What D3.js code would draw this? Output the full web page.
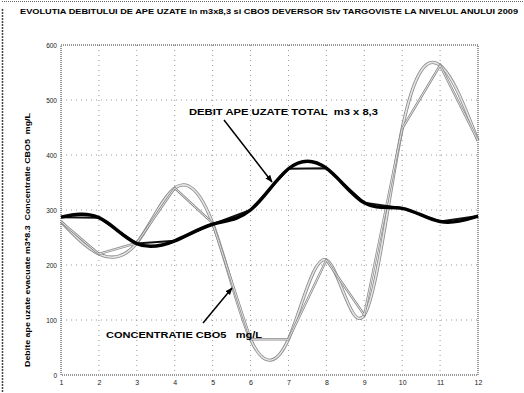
<!DOCTYPE html>
<html>
<head>
<meta charset="utf-8">
<script src="https://cdn.jsdelivr.net/npm/d3@7"></script>
<style>
  body { margin: 0; background: #fff; }
  text { font-family: "Liberation Sans", Arial, sans-serif; white-space: pre; }
</style>
</head>
<body>
<div id="chart"></div>
<script>
// months 1..12
const months = [1, 2, 3, 4, 5, 6, 7, 8, 9, 10, 11, 12];
// debit ape uzate total (m3 x 8,3)
const debit = [287, 286, 239, 244, 274, 300, 375, 376, 313, 303, 279, 289];
// concentratie CBO5 mg/L
const cbo5 = [279, 220, 240, 340, 276, 65, 65, 209, 109, 448, 563, 426];
const yTicks = [0, 100, 200, 300, 400, 500, 600];

const width = 524, height = 393;
const margin = {top: 45, right: 46, bottom: 18, left: 61};
const w = width - margin.left - margin.right;
const h = height - margin.top - margin.bottom;

const svg = d3.select('#chart').append('svg')
  .attr('width', width)
  .attr('height', height);

// outer figure frame
svg.append('line')
  .attr('x1', 2).attr('x2', 524).attr('y1', 1.5).attr('y2', 1.5)
  .attr('stroke', '#666').attr('stroke-dasharray', '1,1');
svg.append('line')
  .attr('x1', 2.5).attr('x2', 2.5).attr('y1', 9).attr('y2', 393)
  .attr('stroke', '#444').attr('stroke-width', 1.5).attr('stroke-dasharray', '2,1');

svg.append('text')
  .attr('x', 20).attr('y', 14)
  .attr('font-size', 6.6).attr('font-weight', 'bold')
  .attr('textLength', 498).attr('lengthAdjust', 'spacingAndGlyphs')
  .text('EVOLUTIA DEBITULUI DE APE UZATE in m3x8,3 si CBO5 DEVERSOR Stv TARGOVISTE LA NIVELUL ANULUI 2009');

const g = svg.append('g')
  .attr('transform', 'translate(' + margin.left + ',' + margin.top + ')');

const x = d3.scaleLinear().domain([1, 12]).range([0, w]);
const y = d3.scaleLinear().domain([0, 600]).range([h, 0]);

// grid
g.append('g')
  .attr('stroke', '#999').attr('stroke-dasharray', '1,4')
  .selectAll('line.gx')
  .data(months.slice(1, -1))
  .enter().append('line')
  .attr('x1', d => x(d)).attr('x2', d => x(d))
  .attr('y1', 0).attr('y2', h);
g.append('g')
  .attr('stroke', '#999').attr('stroke-dasharray', '1,4')
  .selectAll('line.gy')
  .data(yTicks.slice(1, -1))
  .enter().append('line')
  .attr('x1', 0).attr('x2', w)
  .attr('y1', d => y(d)).attr('y2', d => y(d));

// box
g.append('rect')
  .attr('width', w).attr('height', h)
  .attr('fill', 'none').attr('stroke', '#333').attr('stroke-dasharray', '1,1');

const xAxis = g.append('g')
  .attr('transform', 'translate(0,' + h + ')')
  .call(d3.axisBottom(x).tickValues(months).tickFormat(d3.format('d')).tickSize(0).tickPadding(5));
xAxis.select('.domain').remove();
xAxis.selectAll('text').attr('font-size', 7).attr('fill', '#222');

const yAxis = g.append('g')
  .call(d3.axisLeft(y).tickValues(yTicks).tickSize(0).tickPadding(4));
yAxis.select('.domain').remove();
yAxis.selectAll('text').attr('font-size', 6.5).attr('fill', '#222');

svg.append('text')
  .attr('transform', 'translate(30,240) rotate(-90)')
  .attr('text-anchor', 'middle')
  .attr('font-size', 6.5).attr('font-weight', 'bold')
  .attr('textLength', 254).attr('lengthAdjust', 'spacingAndGlyphs')
  .text('Debite ape uzate evacuate m3*8.3  Concentratie CBO5  mg/L');

const smooth = d3.line().x((d, i) => x(months[i])).y(d => y(d)).curve(d3.curveNatural);
const straight = d3.line().x((d, i) => x(months[i])).y(d => y(d));

// CBO5 (grey, outlined look)
[smooth, straight].forEach((ln, k) => {
  g.append('path').datum(cbo5)
    .attr('d', ln).attr('fill', 'none')
    .attr('stroke', '#8a8a8a').attr('stroke-width', k === 0 ? 3.2 : 2.4);
  g.append('path').datum(cbo5)
    .attr('d', ln).attr('fill', 'none')
    .attr('stroke', '#e4e4e4').attr('stroke-width', k === 0 ? 1.6 : 1);
});

// debit (black)
g.append('path').datum(debit)
  .attr('d', straight).attr('fill', 'none')
  .attr('stroke', '#111').attr('stroke-width', 2);
g.append('path').datum(debit)
  .attr('d', smooth).attr('fill', 'none')
  .attr('stroke', '#000').attr('stroke-width', 3.5);

// annotations
svg.append('defs').append('marker')
  .attr('id', 'ah').attr('viewBox', '0 0 10 10')
  .attr('refX', 9).attr('refY', 5)
  .attr('markerWidth', 5).attr('markerHeight', 5)
  .attr('orient', 'auto')
  .append('path').attr('d', 'M0,1L10,5L0,9Z').attr('fill', '#000');

svg.append('text')
  .attr('x', 189).attr('y', 115)
  .attr('font-size', 8.5).attr('font-weight', 'bold')
  .attr('textLength', 189).attr('lengthAdjust', 'spacingAndGlyphs')
  .text('DEBIT APE UZATE TOTAL  m3 x 8,3');
svg.append('line')
  .attr('x1', 224).attr('y1', 120).attr('x2', 272).attr('y2', 182)
  .attr('stroke', '#000').attr('stroke-width', 1.5).attr('marker-end', 'url(#ah)');

svg.append('text')
  .attr('x', 106).attr('y', 338)
  .attr('font-size', 8.5).attr('font-weight', 'bold')
  .attr('textLength', 156).attr('lengthAdjust', 'spacingAndGlyphs')
  .text('CONCENTRATIE CBO5   mg/L');
svg.append('line')
  .attr('x1', 203).attr('y1', 323).attr('x2', 232).attr('y2', 288)
  .attr('stroke', '#000').attr('stroke-width', 1.5).attr('marker-end', 'url(#ah)');
</script>
</body>
</html>
